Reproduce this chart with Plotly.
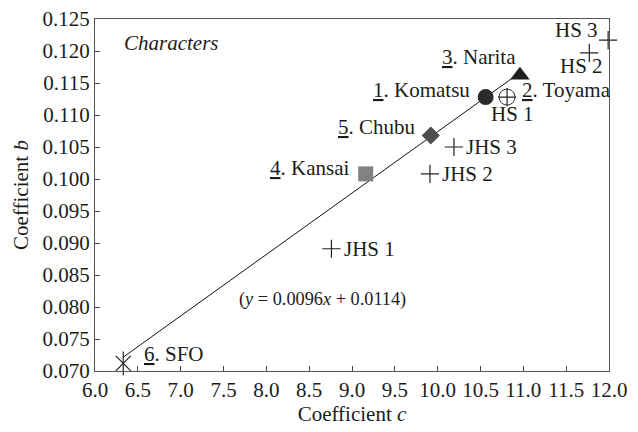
import plotly.graph_objects as go

# Airports: coefficient c (x) and coefficient b (y)
airport_names = ["Komatsu", "Toyama", "Narita", "Kansai", "Chubu", "SFO"]
airport_nums = ["1", "2", "3", "4", "5", "6"]
airport_c = [10.56, 10.81, 10.96, 9.16, 9.92, 6.33]
airport_b = [0.1128, 0.1128, 0.1162, 0.1008, 0.1068, 0.0712]

# Student groups (plus markers)
group_names = ["HS 1", "HS 2", "HS 3", "JHS 1", "JHS 2", "JHS 3"]
group_c = [10.81, 11.77, 11.99, 8.76, 9.91, 10.19]
group_b = [0.1128, 0.1197, 0.1217, 0.0891, 0.1008, 0.1050]

# Regression line
slope = 0.0096
intercept = 0.0114

x_ticks = [6.0, 6.5, 7.0, 7.5, 8.0, 8.5, 9.0, 9.5, 10.0, 10.5, 11.0, 11.5, 12.0]
y_ticks = [0.070, 0.075, 0.080, 0.085, 0.090, 0.095, 0.100, 0.105, 0.110, 0.115, 0.120, 0.125]

TXT = "#1c1c1c"
font_main = dict(family="Liberation Serif", size=21, color=TXT)
font_eq = dict(family="Liberation Serif", size=18.3, color=TXT)

fig = go.Figure()

# fitted line across the airports
x_lo, x_hi = min(airport_c), max(airport_c)
fig.add_trace(go.Scatter(
    x=[x_lo, x_hi], y=[slope * x_lo + intercept, slope * x_hi + intercept],
    mode="lines", line=dict(color="#111111", width=1), hoverinfo="skip",
    cliponaxis=False))

airport_style = {
    "Komatsu": dict(symbol="circle", size=16, color="#2b2b2b", line=dict(width=0)),
    "Toyama": dict(symbol="circle-open", size=16, color="#333333", line=dict(width=1)),
    "Narita": dict(symbol="triangle-up", size=17, color="#1e1e1e", line=dict(width=0)),
    "Kansai": dict(symbol="square", size=15, color="#828282", line=dict(width=0)),
    "Chubu": dict(symbol="diamond", size=14, color="#4e4e4e", line=dict(width=0)),
    "SFO": dict(symbol="x-thin-open", size=15, color="#222222", line=dict(width=1.2)),
}
for name, c, b in zip(airport_names, airport_c, airport_b):
    fig.add_trace(go.Scatter(x=[c], y=[b], mode="markers", name=name,
                             marker=airport_style[name], cliponaxis=False))
    if name == "SFO":
        fig.add_trace(go.Scatter(x=[c], y=[b], mode="markers", cliponaxis=False,
                                 marker=dict(symbol="line-ns-open", size=17,
                                             color="#222222", line=dict(width=1.2))))

fig.add_trace(go.Scatter(
    x=group_c, y=group_b, mode="markers", cliponaxis=False,
    marker=dict(symbol="cross-thin-open", size=13, color="#222222",
                line=dict(width=1.2))))

# label placement: (xanchor, xshift, yshift)
airport_label_pos = {
    "Komatsu": ("right", -14, 7),
    "Toyama": ("left", 13, 7),
    "Narita": ("right", -2, 18),
    "Kansai": ("right", -15, 6),
    "Chubu": ("right", -13, 8),
    "SFO": ("left", 19, 9),
}
group_label_pos = {
    "HS 1": ("center", 5, -17),
    "HS 2": ("right", 16, -13),
    "HS 3": ("right", -8, 10),
    "JHS 1": ("left", 11, 0),
    "JHS 2": ("left", 10, 0),
    "JHS 3": ("left", 10, 0),
}

annotations = []
for num, name, c, b in zip(airport_nums, airport_names, airport_c, airport_b):
    xa, xs, ys = airport_label_pos[name]
    annotations.append(dict(x=c, y=b, text=f"<u>{num}</u>. {name}", showarrow=False,
                            xanchor=xa, yanchor="middle", xshift=xs, yshift=ys,
                            font=font_main))
for name, c, b in zip(group_names, group_c, group_b):
    xa, xs, ys = group_label_pos[name]
    annotations.append(dict(x=c, y=b, text=name, showarrow=False,
                            xanchor=xa, yanchor="middle", xshift=xs, yshift=ys,
                            font=font_main))

annotations.append(dict(x=6.32, y=0.1213, text="<i>Characters</i>", showarrow=False,
                        xanchor="left", yanchor="middle", font=font_main))
annotations.append(dict(x=8.66, y=0.0811,
                        text=f"(<i>y</i> = {slope}<i>x</i> + {intercept})",
                        showarrow=False, xanchor="center", yanchor="middle",
                        font=font_eq))

fig.update_layout(
    template="none",
    width=638, height=432,
    margin=dict(l=95, r=29, t=19, b=61),
    paper_bgcolor="white", plot_bgcolor="white",
    showlegend=False,
    font=font_main,
    annotations=annotations,
)
fig.update_xaxes(
    range=[6.0, 12.0], tickvals=x_ticks, tickformat=".1f", tickfont=font_main,
    ticks="inside", ticklen=5, tickcolor="#444", tickwidth=1,
    showline=True, linecolor="#555", linewidth=1, mirror=True,
    showgrid=False, zeroline=False,
    title=dict(text="Coefficient <i>c</i>", standoff=0, font=font_main),
)
fig.update_yaxes(
    range=[0.070, 0.125], tickvals=y_ticks, tickformat=".3f", tickfont=font_main,
    ticks="inside", ticklen=5, tickcolor="#444", tickwidth=1,
    showline=True, linecolor="#555", linewidth=1, mirror=True,
    showgrid=False, zeroline=False,
    title=dict(text="Coefficient <i>b</i>", standoff=8, font=font_main),
)

fig.write_html("out.html")
